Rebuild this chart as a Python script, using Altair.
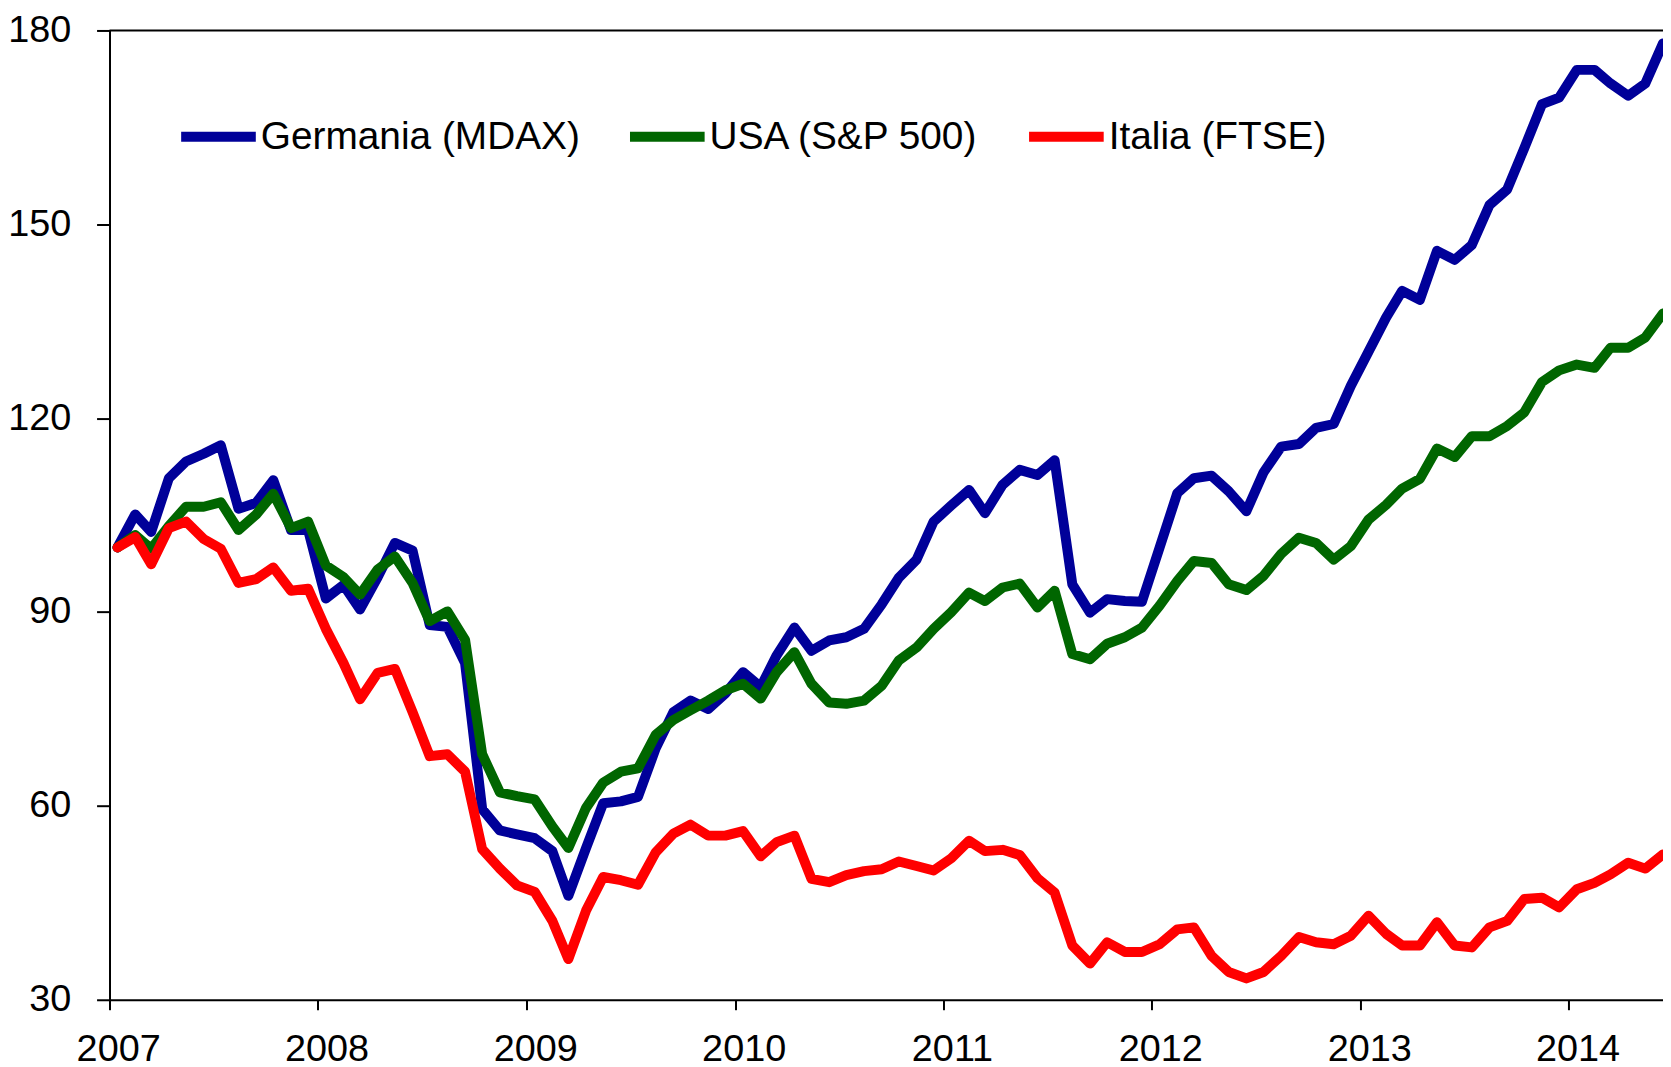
import altair as alt
import pandas as pd

years = list(range(2007, 2015))
month_dates = [f"{y}-{m:02d}-15" for y in years for m in range(1, 13)][:90]

germania = [100.0, 105.1, 102.4, 110.7, 113.3, 114.5, 115.8, 106.0, 106.9, 110.4, 102.7, 102.7,
            92.1, 94.2, 90.4, 95.4, 100.7, 99.5, 88.0, 87.7, 82.1, 59.5, 56.2, 55.6,
            55.0, 53.0, 46.1, 53.5, 60.4, 60.7, 61.4, 68.9, 74.5, 76.3, 75.0, 77.4,
            80.7, 78.4, 83.3, 87.6, 84.0, 85.6, 86.1, 87.4, 91.2, 95.3, 98.1, 104.0,
            106.5, 108.9, 105.3, 109.7, 112.0, 111.2, 113.5, 94.3, 89.9, 92.0, 91.7, 91.6,
            100.0, 108.4, 110.7, 111.1, 108.7, 105.6, 111.6, 115.6, 116.0, 118.5, 119.1, 125.0,
            130.3, 135.6, 139.7, 138.3, 145.9, 144.5, 146.8, 153.0, 155.4, 161.8, 168.6, 169.6,
            173.9, 173.9, 171.8, 169.9, 171.8, 178.0]

usa = [100.0, 101.9, 99.8, 103.3, 106.3, 106.3, 107.0, 102.7, 105.1, 108.3, 103.0, 104.0,
       97.2, 95.4, 92.7, 96.6, 98.6, 94.5, 88.6, 90.1, 85.7, 68.0, 62.1, 61.5,
       61.0, 56.8, 53.5, 59.7, 63.6, 65.3, 65.8, 71.0, 73.3, 74.8, 76.3, 77.9,
       78.9, 76.6, 80.7, 83.8, 78.9, 76.0, 75.8, 76.3, 78.6, 82.5, 84.5, 87.4,
       90.0, 93.0, 91.7, 93.8, 94.4, 90.7, 93.3, 83.5, 82.7, 85.1, 86.1, 87.6,
       91.0, 94.8, 97.9, 97.6, 94.3, 93.4, 95.6, 99.0, 101.5, 100.7, 98.1, 100.2,
       104.3, 106.6, 109.1, 110.6, 115.3, 114.0, 117.2, 117.2, 118.8, 120.9, 125.6, 127.4,
       128.3, 127.8, 130.9, 130.9, 132.5, 136.2]

italia = [100.0, 101.6, 97.4, 103.0, 104.0, 101.3, 99.8, 94.5, 95.1, 96.9, 93.3, 93.6,
          87.4, 82.1, 76.5, 80.6, 81.2, 74.5, 67.7, 68.0, 65.3, 53.3, 50.3, 47.7,
          46.7, 42.2, 36.3, 43.8, 49.0, 48.5, 47.8, 52.8, 55.7, 57.1, 55.4, 55.4,
          56.1, 52.2, 54.4, 55.4, 48.7, 48.2, 49.3, 49.9, 50.2, 51.4, 50.7, 50.0,
          51.9, 54.6, 53.0, 53.2, 52.4, 48.8, 46.6, 38.4, 35.6, 38.9, 37.4, 37.4,
          38.6, 40.9, 41.2, 36.8, 34.3, 33.3, 34.3, 36.8, 39.7, 38.9, 38.6, 39.9,
          43.0, 40.2, 38.4, 38.4, 42.0, 38.4, 38.1, 41.2, 42.2, 45.6, 45.8, 44.3,
          47.1, 48.1, 49.4, 51.2, 50.3, 52.5]

series_names = ["Germania (MDAX)", "USA (S&P 500)", "Italia (FTSE)"]
series_colors = ["#000099", "#006600", "#FF0000"]
y_ticks = [30, 60, 90, 120, 150, 180]

rows = []
for name, vals in zip(series_names, [germania, usa, italia]):
    for d, v in zip(month_dates, vals):
        rows.append({"data": d, "serie": name, "valore": v})
df = pd.DataFrame(rows)

top_df = pd.DataFrame({"bordo": [180]})

FONT = "Liberation Sans"

x_enc = alt.X(
    "data:T",
    title=None,
    scale=alt.Scale(
        type="utc",
        domain=[alt.DateTime(year=2007, month=1, date=1, utc=True),
                alt.DateTime(year=2014, month=6, date=15, utc=True)],
    ),
    axis=alt.Axis(
        values=[alt.DateTime(year=y, month=1, date=1, utc=True) for y in years],
        labelExpr="utcFormat(datum.value, '%Y')",
        labelFontSize=38, labelFont=FONT, labelColor="black",
        tickSize=10, labelPadding=21, labelOffset=8.7,
        labelFlush=False, labelOverlap=False, grid=False,
        domainColor="black", domainWidth=2, tickColor="black", tickWidth=2,
    ),
)

y_scale = alt.Scale(domain=[30, 180], nice=False, zero=False)

y_enc = alt.Y(
    "valore:Q",
    title=None,
    scale=y_scale,
    axis=alt.Axis(
        values=y_ticks,
        labelFontSize=38, labelFont=FONT, labelColor="black",
        tickSize=13, labelPadding=26, grid=False,
        domainColor="black", domainWidth=2, tickColor="black", tickWidth=2,
    ),
)

top_line = alt.Chart(top_df).mark_rule(color="black", strokeWidth=2).encode(
    y=alt.Y("bordo:Q", scale=y_scale)
)

lines = alt.Chart(df).mark_line(
    strokeWidth=10, strokeJoin="round", strokeCap="round", clip=True
).encode(
    x=x_enc,
    y=y_enc,
    color=alt.Color(
        "serie:N",
        scale=alt.Scale(domain=series_names, range=series_colors),
        legend=alt.Legend(
            title=None,
            orient="none",
            legendX=67,
            legendY=64,
            direction="horizontal",
            symbolType="stroke",
            symbolStrokeWidth=10,
            symbolSize=5625,
            labelFontSize=39,
            labelFont=FONT,
            labelColor="black",
            labelOffset=0,
            columnPadding=30,
            labelLimit=0,
        ),
    ),
)

chart = alt.layer(top_line, lines).properties(
    width=1561,
    height=974,
    autosize=alt.AutoSizeParams(type="none"),
    padding={"left": 102, "top": 20, "right": 0, "bottom": 66},
).configure_view(stroke=None)

chart.save("out.html", embed_options={"renderer": "svg", "actions": False})
